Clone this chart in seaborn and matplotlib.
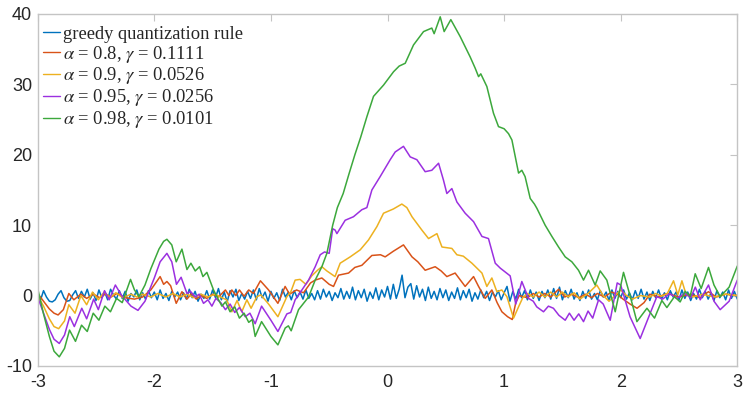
import numpy as np
import pandas as pd
import matplotlib
matplotlib.use("Agg")
import matplotlib.pyplot as plt
import seaborn as sns

# ---------------- data ----------------
series_names = [
    "greedy quantization rule",
    r"$\alpha$ = 0.8, $\gamma$ = 0.1111",
    r"$\alpha$ = 0.9, $\gamma$ = 0.0526",
    r"$\alpha$ = 0.95, $\gamma$ = 0.0256",
    r"$\alpha$ = 0.98, $\gamma$ = 0.0101",
]
series_colors = ["#0072BD", "#D95319", "#EDB120", "#9B30E0", "#3CA83C"]

greedy_x = list(np.round(np.arange(-3.0, 3.0001, 0.025), 3))
greedy_y = [0.3, -0.6, 0.7, -0.2, -0.8, -0.9, -0.6, 0.2, 0.7, -0.3,
            -0.8, -0.7, 0.1, 0.7, -0.4, 0.6, -0.2, 0.9, -0.5, 0.4,
            -0.7, 0.8, -0.3, 0.5, -0.6, 0.9, 0.1, -0.5, 0.7, -0.4,
            0.6, -0.8, 0.3, -0.2, 0.8, -0.6, 0.4, -0.5, 0.7, -0.3,
            0.5, -0.6, 0.8, -0.4, 0.3, -0.7, 0.6, -0.2, 0.5, -0.6,
            0.4, -0.5, 0.9, -0.3, 0.6, -0.8, 0.2, -0.4, 0.7, -0.5,
            0.8, -0.3, 1.0, -0.6, 0.5, -0.9, 0.7, -0.2, 0.9, -0.7,
            0.3, -0.5, 0.6, -0.4, 0.8, -0.6, 1.0, -0.3, 0.5, -0.8,
            0.6, -0.4, 0.4, -0.7, 0.9, -0.2, 0.5, -0.6, 0.7, -0.3,
            0.5, -0.5, 0.8, -0.4, 0.3, -0.6, 0.7, -0.5, 0.9, -0.2,
            0.6, -0.7, 0.4, -0.3, 1.0, -0.5, 0.6, -0.4, 1.2, -0.6,
            0.7, -0.3, 0.9, -0.8, 0.5, -0.4, 1.1, -0.6, 0.8, -0.2,
            1.3, -0.5, 1.6, -0.4, 0.9, 2.9, -0.3, 1.2, 1.7, -0.5,
            1.4, -0.2, 0.9, -0.7, 1.2, -0.4, 0.6, -0.6, 1.0, -0.3,
            0.8, -0.7, 0.5, -0.4, 1.1, -0.6, 0.7, -0.3, 0.9, -0.8,
            0.4, -0.5, 0.8, -0.3, 0.6, -0.7, 0.5, -0.2, 0.7, -0.6,
            0.4, 1.3, -0.8, 0.6, -0.5, 0.9, -0.3, 0.7, -0.6, 0.8,
            -0.4, 0.5, -0.7, 0.6, -0.3, 0.8, -0.5, 1.0, -0.4, 1.2,
            -0.6, 0.7, -0.3, 0.9, -0.5, 0.4, -0.7, 0.6, -0.4, 0.8,
            -0.5, 0.3, -0.6, 0.7, -0.2, 0.5, -0.7, 0.8, -0.4, 0.6,
            -0.3, 0.8, -0.5, 0.4, -0.6, 0.7, -0.4, 0.9, -0.5, 0.5,
            -0.7, 0.6, -0.3, 0.8, -0.5, 0.4, -0.6, 0.7, -0.2, 0.5,
            -0.6, 0.8, -0.4, 0.5, -0.7, 0.3, -0.5, 0.9, -0.3, 0.6,
            -0.5, 0.4, -0.7, 0.7, -0.3, 0.5, -0.6, 0.8, -0.4, 0.6,
            -0.5]

alpha080 = [(-3.0, 0.3), (-2.95, -0.8), (-2.9, -1.9), (-2.86, -2.5), (-2.825, -2.75),
            (-2.78, -2.0), (-2.733, 0.3), (-2.69, -0.6), (-2.63, 0.2), (-2.58, -0.4),
            (-2.52, 0.2), (-2.47, -0.3), (-2.42, 0.2), (-2.37, -0.2), (-2.32, 0.3),
            (-2.25, -0.3), (-2.17, -0.5), (-2.1, -0.2), (-2.03, 0.8), (-1.99, 1.75),
            (-1.95, 2.7), (-1.92, 1.6), (-1.892, 2.0), (-1.86, 1.4), (-1.812, -1.1),
            (-1.763, 0.55), (-1.72, -0.5), (-1.68, 0.3), (-1.64, -0.5), (-1.6, 0.0),
            (-1.55, -0.4), (-1.5, 0.2), (-1.45, -0.2), (-1.39, 0.8), (-1.36, 0.0),
            (-1.335, 0.8), (-1.3, 0.0), (-1.27, 0.8), (-1.23, -0.1), (-1.19, 0.8),
            (-1.15, 0.3), (-1.09, 2.1), (-1.02, 0.8), (-0.94, -1.1), (-0.878, 1.3),
            (-0.84, 0.2), (-0.78, 0.8), (-0.72, 0.4), (-0.66, 1.8), (-0.62, 2.2),
            (-0.563, 2.5), (-0.5, 1.6), (-0.463, 1.3), (-0.42, 2.9), (-0.334, 3.2),
            (-0.28, 4.0), (-0.22, 4.3), (-0.134, 5.7), (-0.06, 5.8), (-0.02, 5.5),
            (0.05, 6.3), (0.137, 7.2), (0.21, 5.5), (0.26, 4.8), (0.323, 3.6),
            (0.409, 4.1), (0.46, 3.5), (0.509, 2.7), (0.58, 3.2), (0.666, 1.3),
            (0.738, 2.7), (0.781, 1.3), (0.838, -0.4), (0.895, 0.8), (0.94, -1.0),
            (0.981, -2.3), (1.03, -3.0), (1.07, -3.4), (1.1, -1.0), (1.13, 0.0),
            (1.2, -0.3), (1.25, 0.3), (1.3, -0.2), (1.35, 0.3), (1.4, -0.2),
            (1.467, 0.9), (1.52, -0.2), (1.58, 0.2), (1.64, -0.3), (1.7, 0.2),
            (1.75, -0.3), (1.8, 0.3), (1.86, -0.2), (1.92, 0.5), (1.97, 0.2),
            (2.02, -0.5), (2.08, -1.2), (2.14, -1.8), (2.2, -1.0), (2.25, 0.2),
            (2.32, -0.2), (2.4, 0.3), (2.5, -0.2), (2.6, 0.2), (2.68, -0.3),
            (2.753, 0.55), (2.82, -0.2), (2.9, 0.2), (3.0, 0.0)]

alpha090 = [(-3.0, 0.0), (-2.95, -1.5), (-2.9, -3.3), (-2.86, -4.4), (-2.82, -4.7),
            (-2.77, -3.6), (-2.733, -1.3), (-2.68, -2.5), (-2.63, 0.0), (-2.58, -1.3),
            (-2.53, 0.5), (-2.48, -0.6), (-2.43, 0.5), (-2.38, -0.3), (-2.33, 0.4),
            (-2.27, -0.3), (-2.2, 0.2), (-2.15, -0.2), (-2.1, 0.2), (-2.03, -0.2),
            (-1.97, 0.3), (-1.9, -0.2), (-1.84, 0.3), (-1.78, -0.2), (-1.72, 0.2),
            (-1.66, -0.3), (-1.6, 0.2), (-1.54, -0.2), (-1.48, 0.2), (-1.42, -0.3),
            (-1.38, -0.6), (-1.335, -2.3), (-1.29, -0.7), (-1.25, -2.3), (-1.206, -0.6),
            (-1.17, -1.8), (-1.12, -0.15), (-1.086, 0.1), (-1.02, -1.2), (-0.94, -3.0),
            (-0.863, -0.15), (-0.83, 0.5), (-0.792, 2.2), (-0.75, 2.3), (-0.7, 1.6),
            (-0.65, 2.8), (-0.6, 3.6), (-0.563, 4.1), (-0.52, 3.5), (-0.45, 2.7),
            (-0.406, 4.6), (-0.32, 5.5), (-0.234, 6.5), (-0.163, 7.9), (-0.091, 9.8),
            (-0.034, 11.7), (0.05, 12.3), (0.123, 13.0), (0.166, 12.5), (0.21, 11.2),
            (0.295, 9.3), (0.352, 8.1), (0.424, 8.8), (0.467, 6.9), (0.552, 6.7),
            (0.595, 5.8), (0.65, 5.6), (0.724, 4.6), (0.81, 3.2), (0.852, 1.3),
            (0.895, 2.5), (0.938, 0.55), (0.98, 0.8), (1.024, -0.15), (1.081, -3.2),
            (1.124, -1.6), (1.16, -0.3), (1.2, 0.3), (1.25, -0.2), (1.3, 0.5),
            (1.35, -0.2), (1.4, 0.5), (1.45, -0.2), (1.5, 0.5), (1.55, -0.2),
            (1.6, 0.4), (1.65, -0.5), (1.72, 0.3), (1.795, 1.5), (1.85, 0.0),
            (1.9, -0.8), (1.95, 0.0), (2.0, 0.8), (2.05, 0.0), (2.1, -0.5),
            (2.17, 0.0), (2.25, -0.2), (2.3, 0.3), (2.35, -0.1), (2.4, 0.3),
            (2.453, 2.1), (2.49, 0.1), (2.525, 2.1), (2.56, 0.2), (2.62, -0.2),
            (2.7, 0.2), (2.8, -0.2), (2.9, 0.2), (3.0, 0.0)]

alpha095 = [(-3.0, -0.2), (-2.95, -2.5), (-2.9, -4.8), (-2.86, -6.2), (-2.815, -6.8),
            (-2.77, -5.6), (-2.725, -3.0), (-2.686, -4.4), (-2.622, -1.8), (-2.58, -3.3),
            (-2.52, -0.5), (-2.48, -2.0), (-2.427, 0.7), (-2.387, -0.6), (-2.334, 1.5),
            (-2.28, 0.0), (-2.2, -1.5), (-2.14, -2.1), (-2.08, -0.8), (-2.0, 2.5),
            (-1.95, 4.8), (-1.892, 6.0), (-1.85, 4.8), (-1.81, 1.6), (-1.77, 2.6),
            (-1.72, 0.3), (-1.69, 0.6), (-1.649, -0.2), (-1.615, 0.2), (-1.578, -1.1),
            (-1.54, -0.6), (-1.506, -1.5), (-1.472, -0.4), (-1.43, -1.0), (-1.39, -2.0),
            (-1.35, -1.2), (-1.31, -2.4), (-1.27, -1.7), (-1.22, -3.0), (-1.18, -2.5),
            (-1.135, -4.0), (-1.08, -1.5), (-1.0, -3.5), (-0.94, -5.1), (-0.863, -2.6),
            (-0.83, -2.4), (-0.792, -0.6), (-0.734, 0.8), (-0.677, 2.2), (-0.62, 4.1),
            (-0.577, 5.8), (-0.54, 6.2), (-0.5, 6.0), (-0.47, 9.5), (-0.449, 9.3),
            (-0.434, 8.8), (-0.363, 10.7), (-0.292, 11.2), (-0.22, 12.2), (-0.177, 12.5),
            (-0.134, 15.0), (-0.063, 16.9), (0.023, 19.3), (0.066, 20.4), (0.137, 21.2),
            (0.195, 19.7), (0.252, 19.3), (0.323, 17.6), (0.38, 17.8), (0.438, 18.8),
            (0.48, 16.4), (0.509, 14.5), (0.552, 15.2), (0.595, 13.3), (0.666, 11.7),
            (0.738, 10.5), (0.81, 8.4), (0.866, 8.1), (0.924, 4.6), (0.967, 3.9),
            (1.052, 2.8), (1.1, -1.2), (1.152, 2.0), (1.21, -0.4), (1.25, -0.8),
            (1.28, -1.6), (1.338, -2.3), (1.38, -1.5), (1.423, -1.8), (1.47, -2.8),
            (1.524, -3.5), (1.56, -2.5), (1.6, -3.5), (1.64, -2.6), (1.681, -3.7),
            (1.72, -2.2), (1.76, -3.2), (1.81, -0.6), (1.85, -1.2), (1.91, -3.5),
            (1.97, 1.8), (2.0, 1.5), (2.08, -3.0), (2.167, -6.1), (2.253, -2.5),
            (2.31, -0.15), (2.36, -0.5), (2.42, 0.3), (2.48, -0.4), (2.55, 0.3),
            (2.6, -0.3), (2.64, 1.2), (2.682, -0.6), (2.753, 1.5), (2.8, -0.8),
            (2.853, -2.0), (2.93, -0.8), (3.0, 2.2)]

alpha098 = [(-3.0, 1.0), (-2.95, -2.6), (-2.9, -5.8), (-2.86, -7.9), (-2.815, -8.7),
            (-2.77, -7.5), (-2.727, -4.9), (-2.676, -6.5), (-2.624, -4.2), (-2.575, -5.1),
            (-2.524, -2.5), (-2.475, -3.5), (-2.424, -1.5), (-2.376, -2.3), (-2.324, -0.4),
            (-2.275, -1.0), (-2.204, 2.3), (-2.17, 0.8), (-2.132, -0.15), (-2.08, 1.5),
            (-2.03, 3.8), (-1.96, 6.6), (-1.92, 7.7), (-1.892, 8.0), (-1.85, 7.2),
            (-1.812, 4.8), (-1.763, 6.6), (-1.72, 3.7), (-1.686, 4.6), (-1.649, 3.5),
            (-1.612, 4.1), (-1.583, 2.7), (-1.549, 3.3), (-1.492, 0.8), (-1.449, -0.6),
            (-1.42, -1.5), (-1.39, -0.9), (-1.35, -2.3), (-1.31, -1.6), (-1.27, -3.2),
            (-1.23, -2.5), (-1.19, -3.8), (-1.16, -3.4), (-1.135, -5.8), (-1.08, -3.7),
            (-1.0, -5.8), (-0.94, -7.0), (-0.877, -4.6), (-0.85, -4.3), (-0.826, -5.0),
            (-0.763, -2.0), (-0.677, -0.2), (-0.62, 2.2), (-0.563, 4.1), (-0.52, 6.0),
            (-0.47, 10.0), (-0.43, 12.5), (-0.38, 14.5), (-0.33, 17.3), (-0.28, 20.0),
            (-0.23, 22.5), (-0.177, 25.4), (-0.12, 28.3), (-0.034, 29.9), (0.052, 31.8),
            (0.1, 32.6), (0.152, 33.0), (0.223, 35.6), (0.309, 37.5), (0.38, 38.0),
            (0.4, 37.2), (0.452, 39.6), (0.486, 37.5), (0.543, 39.2), (0.623, 36.8),
            (0.709, 33.9), (0.752, 32.3), (0.781, 31.1), (0.8, 31.5), (0.852, 29.7),
            (0.909, 25.9), (0.952, 24.0), (1.0, 23.7), (1.038, 23.0), (1.067, 22.1),
            (1.124, 17.4), (1.152, 17.8), (1.18, 16.9), (1.224, 13.8), (1.26, 13.0),
            (1.281, 12.4), (1.352, 10.0), (1.41, 8.4), (1.467, 6.9), (1.524, 5.5),
            (1.581, 4.8), (1.638, 3.6), (1.681, 2.2), (1.724, 3.6), (1.781, 1.5),
            (1.824, 3.5), (1.881, 2.2), (1.953, -2.3), (2.024, 3.3), (2.08, 0.0),
            (2.139, -3.7), (2.225, -1.8), (2.29, -3.2), (2.353, -0.7), (2.396, -1.7),
            (2.461, -0.15), (2.51, -0.9), (2.553, 0.6), (2.596, -0.1), (2.639, 3.1),
            (2.69, 1.0), (2.753, 4.0), (2.8, 1.5), (2.853, -0.15), (2.93, 1.2),
            (3.0, 4.2)]

x_ticks = [-3, -2, -1, 0, 1, 2, 3]
y_ticks = [-10, 0, 10, 20, 30, 40]

# ---------------- build long-form table ----------------
frames = [pd.DataFrame({"x": greedy_x, "y": greedy_y, "series": series_names[0]})]
for name, pts in zip(series_names[1:], [alpha080, alpha090, alpha095, alpha098]):
    xs, ys = zip(*pts)
    frames.append(pd.DataFrame({"x": xs, "y": ys, "series": name}))
df = pd.concat(frames, ignore_index=True)

# ---------------- style ----------------
sns.set_theme(style="white")
plt.rcParams["font.family"] = ["Liberation Sans", "DejaVu Sans"]
plt.rcParams["mathtext.fontset"] = "stix"
plt.rcParams["axes.unicode_minus"] = False

fig = plt.figure(figsize=(7.48, 3.94), dpi=100)
ax = fig.add_axes([0.0504, 0.0711, 0.9353, 0.8934])

sns.lineplot(data=df, x="x", y="y", hue="series", hue_order=series_names,
             palette=dict(zip(series_names, series_colors)),
             sort=False, estimator=None, linewidth=1.1, ax=ax)

ax.set_xlim(-3, 3)
ax.set_ylim(-10, 40)
ax.set_xticks(x_ticks)
ax.set_yticks(y_ticks)
ax.set_xticklabels([str(t) for t in x_ticks])
ax.set_yticklabels([str(t) for t in y_ticks])
ax.set_xlabel("")
ax.set_ylabel("")

spine_col = "#c4c4c4"
for s in ax.spines.values():
    s.set_visible(True)
    s.set_color(spine_col)
    s.set_linewidth(1.0)
ax.tick_params(axis="both", which="major", direction="in", length=5, width=0.8,
               color=spine_col, labelcolor="#262626", labelsize=13,
               top=True, right=True, pad=4)
ax.tick_params(axis="x", pad=6)

handles, labels = ax.get_legend_handles_labels()
leg = ax.legend(handles, labels, loc="upper left", frameon=False,
                bbox_to_anchor=(0.007, 0.967),
                prop={"family": "Liberation Serif", "size": 13.3},
                handlelength=0.95, handletextpad=0.15, labelspacing=0.05,
                borderaxespad=0.0, borderpad=0.0)
for line in leg.get_lines():
    line.set_linewidth(1.0)

fig.savefig("out.png", dpi=100)
